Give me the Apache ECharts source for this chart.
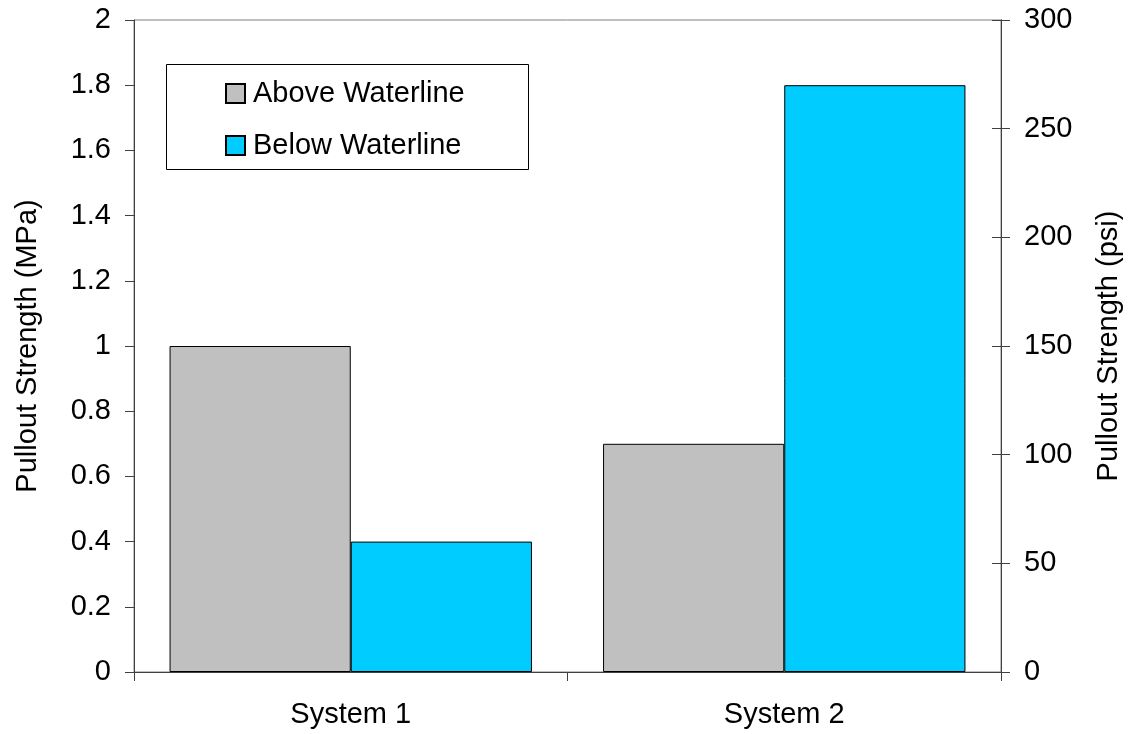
<!DOCTYPE html>
<html>
<head>
<meta charset="utf-8">
<script src="https://cdn.jsdelivr.net/npm/echarts@6/dist/echarts.min.js"></script>
<style>
  html, body { margin: 0; padding: 0; background: #ffffff; }
  #chart { width: 1132px; height: 734px; }
</style>
</head>
<body>
<div id="chart"></div>
<script>
// Pullout strength by system, above and below the waterline
const categories = ['System 1', 'System 2'];
const seriesNames = ['Above Waterline', 'Below Waterline'];
const aboveWaterline = [1.0, 0.7];   // MPa
const belowWaterline = [0.4, 1.8];   // MPa
const mpaTicks = { min: 0, max: 2, interval: 0.2 };
const psiTicks = { min: 0, max: 300, interval: 50 };

const FONT = '"Liberation Sans", Arial, sans-serif';
const FS = 29;
const AXIS_DARK = '#404040';

const chart = echarts.init(document.getElementById('chart'), null, { renderer: 'canvas' });

const gridLeft = 134, gridRight = 131, gridTop = 20, gridBottom = 62;

chart.setOption({
  animation: false,
  backgroundColor: '#ffffff',
  textStyle: { fontFamily: FONT, color: '#000' },
  grid: {
    left: gridLeft, right: gridRight, top: gridTop, bottom: gridBottom,
    show: true, borderColor: '#808080', borderWidth: 1, backgroundColor: 'transparent'
  },
  graphic: [{
    type: 'rect',
    left: 166, top: 64,
    shape: { width: 362, height: 105 },
    style: { fill: '#ffffff', stroke: '#000000', lineWidth: 1 },
    z: 5
  }],
  legend: {
    orient: 'vertical',
    left: 220, top: 74,
    icon: 'rect',
    itemWidth: 19, itemHeight: 19,
    itemGap: 23,
    z: 10,
    data: seriesNames,
    textStyle: { fontFamily: FONT, fontSize: FS, color: '#000', padding: [0, 0, 0, 3] }
  },
  xAxis: {
    type: 'category',
    data: categories,
    axisLine: { lineStyle: { color: AXIS_DARK, width: 1 } },
    axisTick: { show: true, length: 9, lineStyle: { color: AXIS_DARK } },
    axisLabel: { fontFamily: FONT, fontSize: FS, color: '#000', margin: 28 },
    splitLine: { show: false }
  },
  yAxis: [
    {
      type: 'value',
      position: 'left',
      min: mpaTicks.min, max: mpaTicks.max, interval: mpaTicks.interval,
      name: 'Pullout Strength (MPa)',
      nameLocation: 'middle', nameRotate: 90, nameGap: 92,
      nameTextStyle: { fontFamily: FONT, fontSize: FS, color: '#000' },
      axisLine: { show: true, lineStyle: { color: AXIS_DARK, width: 1 } },
      axisTick: { show: true, length: 9, lineStyle: { color: AXIS_DARK } },
      axisLabel: { fontFamily: FONT, fontSize: FS, color: '#000', margin: 23 },
      splitLine: { show: false }
    },
    {
      type: 'value',
      position: 'right',
      min: psiTicks.min, max: psiTicks.max, interval: psiTicks.interval,
      name: 'Pullout Strength (psi)',
      nameLocation: 'middle', nameRotate: 90, nameGap: 93,
      nameTextStyle: { fontFamily: FONT, fontSize: FS, color: '#000' },
      axisLine: { show: true, lineStyle: { color: AXIS_DARK, width: 1 } },
      axisTick: { show: true, length: 9, lineStyle: { color: AXIS_DARK } },
      axisLabel: { fontFamily: FONT, fontSize: FS, color: '#000', margin: 23 },
      splitLine: { show: false }
    },
    {
      // inner half of the crossing ticks on the psi axis
      type: 'value',
      position: 'right',
      min: psiTicks.min, max: psiTicks.max, interval: psiTicks.interval,
      axisLine: { show: true, lineStyle: { color: AXIS_DARK, width: 1 } },
      axisTick: { show: true, inside: true, length: 9, lineStyle: { color: AXIS_DARK } },
      axisLabel: { show: false },
      splitLine: { show: false }
    }
  ],
  series: [
    {
      name: seriesNames[0],
      type: 'bar',
      yAxisIndex: 0,
      data: aboveWaterline,
      barGap: '0%',
      barCategoryGap: '16.4%',
      itemStyle: { color: '#C0C0C0', borderColor: '#000000', borderWidth: 1 }
    },
    {
      name: seriesNames[1],
      type: 'bar',
      yAxisIndex: 0,
      data: belowWaterline,
      barGap: '0%',
      barCategoryGap: '16.4%',
      itemStyle: { color: '#00CCFF', borderColor: '#000000', borderWidth: 1 }
    }
  ]
});
</script>
</body>
</html>
